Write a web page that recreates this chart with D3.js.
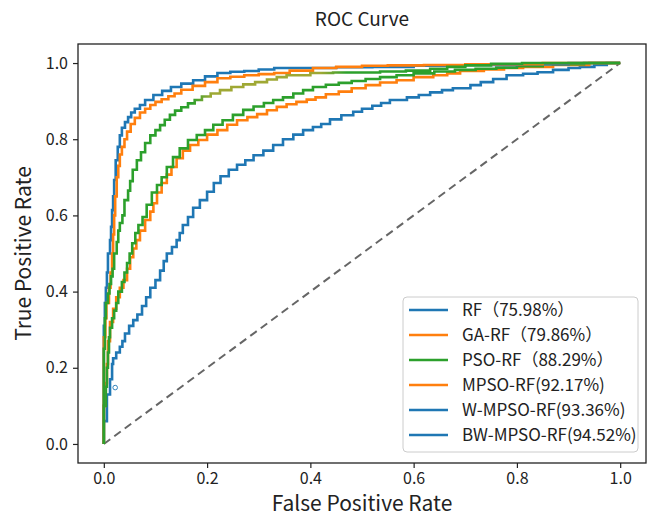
<!DOCTYPE html>
<html>
<head>
<meta charset="utf-8">
<script src="https://cdn.jsdelivr.net/npm/d3@7"></script>
<style>
  body { margin: 0; background: #fff; }
  text { font-family: "Noto Sans CJK SC", "DejaVu Sans", sans-serif; fill: #222; }
</style>
</head>
<body>
<svg id="chart" width="654" height="518"></svg>
<script>
// ROC points [fpr, tpr]
var rfPoints = [[0,0],[0.006,0.06],[0.012,0.13],[0.016,0.17],[0.018,0.21],[0.024,0.225],[0.031,0.24],[0.036,0.255],[0.041,0.27],[0.049,0.29],[0.057,0.31],[0.065,0.325],[0.074,0.34],[0.082,0.362],[0.09,0.385],[0.1,0.41],[0.109,0.43],[0.116,0.455],[0.122,0.48],[0.132,0.5],[0.141,0.517],[0.147,0.535],[0.153,0.554],[0.163,0.575],[0.173,0.596],[0.186,0.62],[0.2,0.64],[0.213,0.662],[0.226,0.685],[0.242,0.703],[0.258,0.72],[0.274,0.733],[0.29,0.745],[0.309,0.758],[0.328,0.77],[0.347,0.785],[0.367,0.8],[0.386,0.812],[0.405,0.824],[0.421,0.832],[0.438,0.84],[0.46,0.852],[0.483,0.863],[0.5,0.872],[0.52,0.88],[0.537,0.888],[0.554,0.895],[0.587,0.903],[0.61,0.91],[0.632,0.916],[0.655,0.923],[0.676,0.929],[0.71,0.934],[0.73,0.942],[0.754,0.95],[0.78,0.958],[0.812,0.968],[0.84,0.972],[0.87,0.976],[0.9,0.982],[0.922,0.987],[0.95,0.99],[0.974,0.995],[1,1]];
var gaPoints = [[0,0],[0.003,0.1],[0.006,0.16],[0.008,0.21],[0.012,0.27],[0.018,0.32],[0.024,0.355],[0.031,0.385],[0.038,0.41],[0.045,0.43],[0.051,0.46],[0.057,0.49],[0.063,0.513],[0.07,0.535],[0.08,0.56],[0.09,0.588],[0.096,0.61],[0.103,0.632],[0.112,0.66],[0.122,0.685],[0.131,0.707],[0.141,0.727],[0.153,0.75],[0.167,0.77],[0.183,0.785],[0.2,0.798],[0.22,0.812],[0.239,0.824],[0.258,0.838],[0.278,0.85],[0.297,0.858],[0.316,0.866],[0.335,0.876],[0.354,0.885],[0.373,0.892],[0.393,0.898],[0.41,0.904],[0.43,0.91],[0.455,0.918],[0.48,0.925],[0.507,0.934],[0.535,0.942],[0.567,0.949],[0.6,0.955],[0.638,0.963],[0.665,0.968],[0.69,0.973],[0.736,0.979],[0.775,0.983],[0.812,0.987],[0.87,0.99],[0.94,0.995],[1,1]];
var psoPoints = [[0,0],[0,0.05],[0.004,0.1],[0.006,0.15],[0.008,0.2],[0.01,0.24],[0.012,0.28],[0.016,0.305],[0.02,0.33],[0.024,0.35],[0.028,0.37],[0.035,0.4],[0.04,0.425],[0.045,0.45],[0.05,0.475],[0.055,0.5],[0.061,0.527],[0.067,0.554],[0.075,0.575],[0.083,0.596],[0.093,0.628],[0.103,0.66],[0.112,0.68],[0.122,0.7],[0.134,0.727],[0.147,0.753],[0.163,0.776],[0.18,0.798],[0.196,0.811],[0.212,0.824],[0.23,0.838],[0.25,0.85],[0.27,0.864],[0.29,0.877],[0.31,0.886],[0.328,0.895],[0.347,0.903],[0.367,0.91],[0.386,0.92],[0.405,0.929],[0.43,0.937],[0.455,0.943],[0.48,0.948],[0.507,0.953],[0.535,0.958],[0.567,0.963],[0.6,0.968],[0.64,0.973],[0.68,0.978],[0.72,0.982],[0.76,0.985],[0.8,0.988],[0.85,0.992],[0.93,0.997],[1,1]];
var mpsoPoints = [[0,0],[0,0.107],[0.002,0.25],[0.004,0.33],[0.008,0.37],[0.011,0.395],[0.014,0.42],[0.017,0.44],[0.02,0.46],[0.025,0.5],[0.028,0.53],[0.031,0.56],[0.036,0.58],[0.04,0.6],[0.047,0.64],[0.051,0.665],[0.056,0.69],[0.064,0.72],[0.072,0.745],[0.08,0.766],[0.09,0.79],[0.1,0.81],[0.109,0.824],[0.118,0.837],[0.128,0.851],[0.138,0.864],[0.15,0.875],[0.163,0.884],[0.176,0.894],[0.19,0.903],[0.207,0.912],[0.225,0.92],[0.247,0.929],[0.27,0.937],[0.293,0.944],[0.316,0.95],[0.335,0.957],[0.354,0.963],[0.4,0.968],[0.444,0.974],[0.49,0.975],[0.535,0.975],[0.585,0.978],[0.632,0.98],[0.665,0.985],[0.7,0.99],[0.75,0.994],[0.81,0.998],[1,1]];
var wmpsoPoints = [[0,0],[0,0.2],[0.003,0.28],[0.005,0.33],[0.01,0.37],[0.013,0.41],[0.016,0.45],[0.018,0.5],[0.02,0.55],[0.022,0.6],[0.025,0.65],[0.028,0.7],[0.031,0.73],[0.035,0.76],[0.04,0.78],[0.045,0.8],[0.052,0.82],[0.06,0.84],[0.07,0.856],[0.08,0.87],[0.09,0.88],[0.1,0.89],[0.112,0.898],[0.125,0.905],[0.137,0.913],[0.15,0.92],[0.172,0.93],[0.196,0.94],[0.22,0.95],[0.245,0.96],[0.272,0.964],[0.3,0.968],[0.33,0.971],[0.36,0.974],[0.405,0.98],[0.45,0.987],[0.5,0.99],[0.55,0.993],[0.62,0.994],[0.7,0.995],[0.85,0.997],[1,1]];
var bwmpsoPoints = [[0,0],[0,0.25],[0.002,0.31],[0.004,0.37],[0.006,0.41],[0.008,0.45],[0.012,0.5],[0.014,0.535],[0.016,0.57],[0.018,0.614],[0.02,0.65],[0.023,0.693],[0.027,0.745],[0.031,0.78],[0.035,0.81],[0.041,0.83],[0.047,0.845],[0.053,0.858],[0.06,0.87],[0.07,0.88],[0.08,0.89],[0.096,0.903],[0.113,0.916],[0.13,0.927],[0.15,0.937],[0.173,0.946],[0.196,0.955],[0.22,0.965],[0.245,0.974],[0.272,0.977],[0.3,0.979],[0.33,0.983],[0.36,0.987],[0.45,0.987],[0.52,0.989],[0.6,0.99],[0.7,0.993],[0.8,0.995],[0.9,0.997],[1,1]];
var strayMarker = [[0.022, 0.148]];

var seriesNames = ["RF", "GA-RF", "PSO-RF", "MPSO-RF", "W-MPSO-RF", "BW-MPSO-RF"];
var legendLabels = ["RF（75.98%）", "GA-RF（79.86%）", "PSO-RF（88.29%）", "MPSO-RF(92.17%)", "W-MPSO-RF(93.36%)", "BW-MPSO-RF(94.52%)"];
var legendColors = ["#1f77b4", "#ff7f0e", "#2ca02c", "#ff7f0e", "#1f77b4", "#1f77b4"];
var lineColors = ["#1f77b4", "#ff7f0e", "#2ca02c", "url(#olive)", "#ff7f0e", "#1f77b4"];
var allPoints = [rfPoints, gaPoints, psoPoints, mpsoPoints, wmpsoPoints, bwmpsoPoints];
var drawOrder = [0, 1, 2, 5, 4, 3];
var tickValues = [0, 0.2, 0.4, 0.6, 0.8, 1.0];

var svg = d3.select("#chart");
var plotLeft = 78, plotRight = 646, plotTop = 44, plotBottom = 463;

var x = d3.scaleLinear().domain([-0.05, 1.05]).range([plotLeft, plotRight]);
var y = d3.scaleLinear().domain([-0.05, 1.05]).range([plotBottom, plotTop]);

// green -> olive -> green stroke for the MPSO curve
var grad = svg.append("defs").append("linearGradient")
    .attr("id", "olive")
    .attr("gradientUnits", "userSpaceOnUse")
    .attr("x1", x(0)).attr("x2", x(1)).attr("y1", 0).attr("y2", 0);
[[0, "#2ca02c"], [0.17, "#2ca02c"], [0.21, "#9fa834"], [0.42, "#9fa834"], [0.47, "#2ca02c"], [1, "#2ca02c"]]
  .forEach(function(s) { grad.append("stop").attr("offset", s[0]).attr("stop-color", s[1]); });

// chance line
svg.append("line")
    .attr("x1", x(0)).attr("y1", y(0)).attr("x2", x(1)).attr("y2", y(1))
    .attr("stroke", "#666").attr("stroke-width", 2).attr("stroke-dasharray", "8,5");

var line = d3.line()
    .x(function(d) { return x(d[0]); })
    .y(function(d) { return y(d[1]); })
    .curve(d3.curveStepBefore);

drawOrder.forEach(function(i) {
  svg.append("path")
      .datum(allPoints[i])
      .attr("d", line)
      .attr("fill", "none")
      .attr("stroke", lineColors[i])
      .attr("stroke-width", 2.6);
});

svg.selectAll("circle.stray").data(strayMarker).enter().append("circle")
    .attr("cx", function(d) { return x(d[0]); })
    .attr("cy", function(d) { return y(d[1]); })
    .attr("r", 2.3).attr("fill", "none").attr("stroke", "#1f77b4").attr("stroke-width", 0.9);

// axes
var xAxis = svg.append("g").attr("transform", "translate(0," + plotBottom + ")")
    .call(d3.axisBottom(x).tickValues(tickValues).tickFormat(d3.format(".1f")).tickSize(5).tickPadding(5));
var yAxis = svg.append("g").attr("transform", "translate(" + plotLeft + ",0)")
    .call(d3.axisLeft(y).tickValues(tickValues).tickFormat(d3.format(".1f")).tickSize(5).tickPadding(5));
[xAxis, yAxis].forEach(function(a) {
  a.select(".domain").remove();
  a.selectAll("line").attr("stroke", "#222").attr("stroke-width", 1.2);
  a.selectAll("text").style("font-size", "16px").attr("fill", "#222");
});

svg.append("rect").attr("x", plotLeft).attr("y", plotTop)
    .attr("width", plotRight - plotLeft).attr("height", plotBottom - plotTop)
    .attr("fill", "none").attr("stroke", "#222").attr("stroke-width", 1.3);

// labels
svg.append("text").attr("x", (plotLeft + plotRight) / 2).attr("y", 26).attr("text-anchor", "middle")
    .style("font-size", "19px").text("ROC Curve");
svg.append("text").attr("x", (plotLeft + plotRight) / 2).attr("y", 511).attr("text-anchor", "middle")
    .style("font-size", "21px").text("False Positive Rate");
svg.append("text").attr("transform", "translate(31," + (plotTop + plotBottom) / 2 + ") rotate(-90)")
    .attr("text-anchor", "middle").style("font-size", "21px").text("True Positive Rate");

// legend
var lg = svg.append("g").attr("transform", "translate(403,297)");
lg.append("rect").attr("width", 235).attr("height", 155).attr("rx", 4)
    .attr("fill", "#fff").attr("fill-opacity", 0.85).attr("stroke", "#ccc");
var items = lg.selectAll("g.item").data(legendLabels).enter().append("g")
    .attr("transform", function(d, i) { return "translate(0," + (13 + i * 25) + ")"; });
items.append("line").attr("x1", 6).attr("x2", 45).attr("y1", 0).attr("y2", 0)
    .attr("stroke", function(d, i) { return legendColors[i]; }).attr("stroke-width", 2.6);
items.append("text").attr("x", 59).attr("y", 6).style("font-size", "17px").text(function(d) { return d; });
</script>
</body>
</html>
